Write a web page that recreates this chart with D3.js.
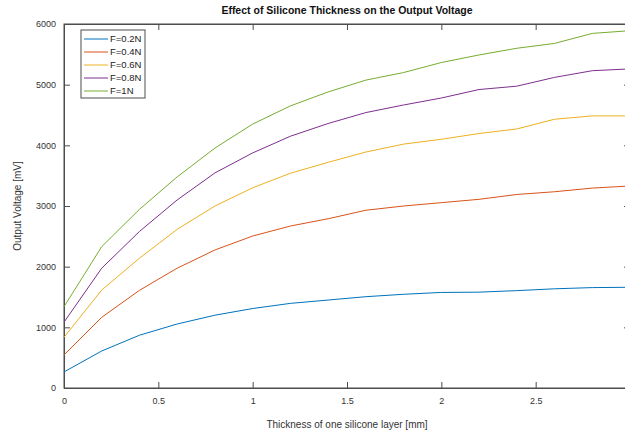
<!DOCTYPE html>
<html>
<head>
<meta charset="utf-8">
<script src="https://cdn.jsdelivr.net/npm/d3@7"></script>
<style>
  body { margin: 0; background: #fff; }
  svg { display: block; font-family: "Liberation Sans", Arial, sans-serif; }
</style>
</head>
<body>
<svg width="625" height="435"></svg>
<script>
// thickness of one silicone layer [mm]
const thickness = [0, 0.2, 0.4, 0.6, 0.8, 1.0, 1.2, 1.4, 1.6, 1.8, 2.0, 2.2, 2.4, 2.6, 2.8, 3.0];

// output voltage [mV] for each force
const f02 = [265, 610, 870, 1055, 1200, 1310, 1395, 1450, 1505, 1545, 1575, 1580, 1605, 1635, 1655, 1660];
const f04 = [545, 1165, 1610, 1975, 2275, 2505, 2670, 2790, 2930, 3000, 3055, 3110, 3190, 3235, 3295, 3330];
const f06 = [835, 1615, 2140, 2615, 3000, 3300, 3540, 3720, 3890, 4020, 4100, 4195, 4270, 4430, 4485, 4485];
const f08 = [1085, 1975, 2580, 3100, 3545, 3875, 4150, 4360, 4540, 4665, 4780, 4920, 4975, 5120, 5230, 5260];
const f10 = [1340, 2330, 2945, 3480, 3955, 4350, 4650, 4880, 5075, 5200, 5365, 5490, 5600, 5680, 5845, 5890];

const seriesNames = ["F=0.2N", "F=0.4N", "F=0.6N", "F=0.8N", "F=1N"];
const seriesValues = [f02, f04, f06, f08, f10];
const seriesColors = ["#0072BD", "#D95319", "#EDB120", "#7E2F8E", "#77AC30"];

const xTicks = [0, 0.5, 1, 1.5, 2, 2.5, 3];
const yTicks = [0, 1000, 2000, 3000, 4000, 5000, 6000];

const svg = d3.select("svg");
const plotL = 64, plotR = 630, plotT = 24, plotB = 388;
const axisColor = "#4d4d4d", labelColor = "#333";

let x = d3.scaleLinear().domain([0, 3]).range([plotL, plotR]);
let y = d3.scaleLinear().domain([0, 6000]).range([plotB, plotT]);

// box
svg.append("rect")
    .attr("x", plotL).attr("y", plotT)
    .attr("width", plotR - plotL).attr("height", plotB - plotT)
    .attr("fill", "none").attr("stroke", axisColor).attr("stroke-width", 1);

// axes with inward ticks, like matlab
const tickLen = 6;
let gx = svg.append("g").attr("transform", `translate(0,${plotB})`)
    .call(d3.axisBottom(x).tickValues(xTicks).tickFormat(d3.format("")).tickSizeInner(-tickLen).tickSizeOuter(0).tickPadding(10));
let gxTop = svg.append("g").attr("transform", `translate(0,${plotT})`)
    .call(d3.axisTop(x).tickValues(xTicks).tickFormat("").tickSizeInner(-tickLen).tickSizeOuter(0));
let gy = svg.append("g").attr("transform", `translate(${plotL},0)`)
    .call(d3.axisLeft(y).tickValues(yTicks).tickFormat(d3.format("d")).tickSizeInner(-tickLen).tickSizeOuter(0).tickPadding(8));
let gyRight = svg.append("g").attr("transform", `translate(${plotR},0)`)
    .call(d3.axisRight(y).tickValues(yTicks).tickFormat("").tickSizeInner(-tickLen).tickSizeOuter(0));

[gx, gxTop, gy, gyRight].forEach(g => {
    g.select(".domain").attr("stroke", axisColor);
    g.selectAll(".tick line").attr("stroke", axisColor);
    g.selectAll(".tick text").attr("fill", labelColor).style("font-size", "9px")
        .style("font-family", "'Liberation Sans', Arial, sans-serif");
});

// lines
let line = d3.line()
    .x((d, i) => x(thickness[i]))
    .y(d => y(d));

seriesValues.forEach((vals, k) => {
    svg.append("path")
        .datum(vals)
        .attr("d", line)
        .attr("fill", "none")
        .attr("stroke", seriesColors[k])
        .attr("stroke-width", 1);
});

// title + labels
svg.append("text")
    .attr("x", (plotL + plotR) / 2).attr("y", 14)
    .attr("text-anchor", "middle")
    .style("font-size", "10.5px").style("font-weight", "bold")
    .attr("fill", "#111")
    .text("Effect of Silicone Thickness on the Output Voltage");

svg.append("text")
    .attr("x", (plotL + plotR) / 2).attr("y", 428)
    .attr("text-anchor", "middle")
    .style("font-size", "10px")
    .attr("fill", labelColor)
    .text("Thickness of one silicone layer [mm]");

svg.append("text")
    .attr("transform", `translate(21,${(plotT + plotB) / 2}) rotate(-90)`)
    .attr("text-anchor", "middle")
    .style("font-size", "10px")
    .attr("fill", labelColor)
    .text("Output Voltage [mV]");

// legend
let lg = svg.append("g");
lg.append("rect")
    .attr("x", 81).attr("y", 30).attr("width", 64).attr("height", 68)
    .attr("fill", "#fff").attr("stroke", axisColor).attr("stroke-width", 1);

seriesNames.forEach((name, k) => {
    let yy = 39 + k * 13;
    lg.append("line")
        .attr("x1", 84).attr("x2", 108).attr("y1", yy).attr("y2", yy)
        .attr("stroke", seriesColors[k]).attr("stroke-width", 1);
    lg.append("text")
        .attr("x", 110).attr("y", yy).attr("dy", "0.35em")
        .style("font-size", "9.5px").attr("fill", "#222")
        .text(name);
});
</script>
</body>
</html>
